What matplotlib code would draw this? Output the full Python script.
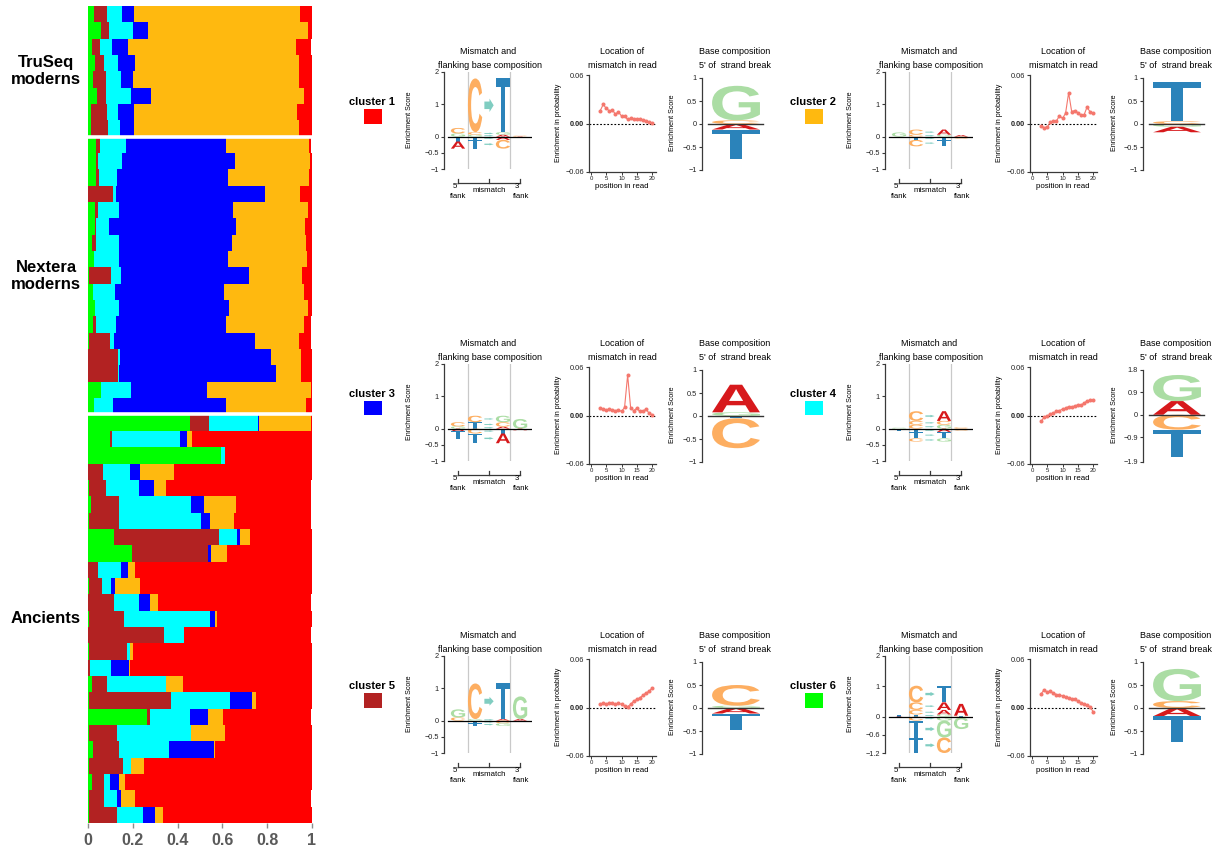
import numpy as np
import matplotlib
matplotlib.use("Agg")
import matplotlib.pyplot as plt
from matplotlib.textpath import TextPath
from matplotlib.font_manager import FontProperties
from matplotlib.patches import PathPatch, Rectangle, Polygon
from matplotlib.transforms import Affine2D
from matplotlib.lines import Line2D

W, H, DPI = 1222, 849, 100
plt.rcParams['font.family'] = ['Liberation Sans', 'DejaVu Sans']

# ---------------------------------------------------------------- data
# cluster membership per sample, stacked left->right as
# [cluster 6, cluster 5, cluster 4, cluster 3, cluster 2, cluster 1]
truseq_props = [
    [0.027, 0.058, 0.067, 0.054, 0.741, 0.054],
    [0.058, 0.036, 0.107, 0.067, 0.714, 0.018],
    [0.017, 0.036, 0.054, 0.071, 0.750, 0.067],
    [0.031, 0.040, 0.063, 0.076, 0.732, 0.058],
    [0.022, 0.058, 0.067, 0.054, 0.741, 0.058],
    [0.040, 0.040, 0.112, 0.089, 0.683, 0.036],
    [0.013, 0.071, 0.049, 0.071, 0.728, 0.067],
    [0.013, 0.076, 0.054, 0.063, 0.737, 0.058],
]
nextera_props = [
    [0.036, 0.018, 0.116, 0.446, 0.371, 0.009],
    [0.036, 0.009, 0.107, 0.504, 0.335, 0.009],
    [0.036, 0.013, 0.080, 0.496, 0.362, 0.013],
    [0.000, 0.112, 0.013, 0.665, 0.156, 0.054],
    [0.031, 0.013, 0.094, 0.509, 0.335, 0.018],
    [0.031, 0.004, 0.058, 0.567, 0.308, 0.031],
    [0.017, 0.018, 0.103, 0.504, 0.330, 0.027],
    [0.027, 0.000, 0.112, 0.487, 0.353, 0.022],
    [0.004, 0.098, 0.045, 0.571, 0.237, 0.045],
    [0.022, 0.000, 0.098, 0.487, 0.357, 0.036],
    [0.031, 0.000, 0.107, 0.491, 0.353, 0.018],
    [0.022, 0.013, 0.089, 0.491, 0.348, 0.031],
    [0.004, 0.094, 0.018, 0.629, 0.196, 0.054],
    [0.000, 0.134, 0.009, 0.674, 0.134, 0.049],
    [0.000, 0.134, 0.004, 0.701, 0.112, 0.049],
    [0.058, 0.000, 0.134, 0.339, 0.464, 0.004],
    [0.027, 0.000, 0.085, 0.504, 0.357, 0.027],
]
ancient_props = [
    [0.455, 0.085, 0.219, 0.004, 0.232, 0.004],
    [0.098, 0.009, 0.304, 0.031, 0.022, 0.536],
    [0.594, 0.000, 0.018, 0.000, 0.000, 0.388],
    [0.000, 0.067, 0.121, 0.045, 0.152, 0.616],
    [0.004, 0.076, 0.147, 0.067, 0.054, 0.647],
    [0.013, 0.125, 0.321, 0.058, 0.143, 0.335],
    [0.004, 0.134, 0.366, 0.040, 0.107, 0.344],
    [0.116, 0.469, 0.080, 0.013, 0.045, 0.277],
    [0.196, 0.339, 0.000, 0.013, 0.071, 0.379],
    [0.000, 0.045, 0.103, 0.031, 0.031, 0.790],
    [0.004, 0.058, 0.040, 0.018, 0.112, 0.768],
    [0.000, 0.116, 0.112, 0.049, 0.036, 0.683],
    [0.004, 0.156, 0.384, 0.022, 0.009, 0.424],
    [0.000, 0.339, 0.089, 0.000, 0.000, 0.567],
    [0.004, 0.170, 0.013, 0.000, 0.013, 0.799],
    [0.000, 0.009, 0.094, 0.080, 0.004, 0.812],
    [0.018, 0.067, 0.263, 0.000, 0.076, 0.576],
    [0.004, 0.366, 0.263, 0.098, 0.018, 0.250],
    [0.263, 0.013, 0.179, 0.080, 0.067, 0.393],
    [0.004, 0.125, 0.330, 0.000, 0.152, 0.388],
    [0.022, 0.116, 0.223, 0.201, 0.004, 0.433],
    [0.004, 0.152, 0.036, 0.000, 0.058, 0.750],
    [0.018, 0.054, 0.027, 0.040, 0.027, 0.835],
    [0.004, 0.067, 0.058, 0.018, 0.063, 0.786],
    [0.004, 0.125, 0.116, 0.054, 0.036, 0.665],
]
group_names = ["TruSeq\nmoderns", "Nextera\nmoderns", "Ancients"]
share_ticks = [0, 0.2, 0.4, 0.6, 0.8, 1]
share_tick_labels = ["0", "0.2", "0.4", "0.6", "0.8", "1"]

cluster_names = ["cluster 1", "cluster 2", "cluster 3", "cluster 4", "cluster 5", "cluster 6"]
cluster_colors = ["#FF0000", "#FFB90F", "#0000FF", "#00FFFF", "#B22222", "#00FF00"]

# mismatch logos: columns = 5' flank, reference base, read base, 3' flank
# each column: (letters above zero, letters below zero), stacked outward
mm_cluster1 = [
    ([('G', 0.10), ('C', 0.17)], [('T', 0.15), ('A', 0.22)]),
    ([('G', 0.06), ('C', 0.08), ('C', 1.66)], [('T', 0.10), ('T', 0.27)]),
    ([('A', 0.06), ('G', 0.08), ('T', 1.66)], [('A', 0.10), ('C', 0.27)]),
    ([('C', 0.03)], [('A', 0.04)]),
]
mm_cluster2 = [
    ([('G', 0.13)], [('T', 0.03)]),
    ([('C', 0.06), ('C', 0.16)], [('T', 0.10), ('C', 0.20)]),
    ([('G', 0.06), ('A', 0.16)], [('T', 0.10), ('T', 0.20)]),
    ([('A', 0.05)], [('C', 0.06)]),
]
mm_cluster3 = [
    ([('G', 0.07), ('C', 0.13)], [('A', 0.08), ('T', 0.23)]),
    ([('T', 0.06), ('T', 0.14), ('C', 0.20)], [('C', 0.15), ('T', 0.30)]),
    ([('A', 0.06), ('C', 0.14), ('G', 0.20)], [('T', 0.15), ('A', 0.30)]),
    ([('G', 0.30)], [('A', 0.05)]),
]
mm_cluster4 = [
    ([('G', 0.03)], [('T', 0.08)]),
    ([('C', 0.12), ('C', 0.12), ('C', 0.30)], [('T', 0.10), ('T', 0.20), ('C', 0.10)]),
    ([('G', 0.12), ('C', 0.12), ('A', 0.30)], [('A', 0.10), ('T', 0.20), ('G', 0.10)]),
    ([('C', 0.04)], [('C', 0.06)]),
]
mm_cluster5 = [
    ([('C', 0.10), ('G', 0.25)], [('T', 0.04)]),
    ([('G', 0.05), ('C', 1.10)], [('T', 0.08), ('T', 0.08)]),
    ([('A', 0.05), ('T', 1.10)], [('C', 0.08), ('G', 0.08)]),
    ([('A', 0.05), ('G', 0.70)], [('A', 0.03)]),
]
mm_cluster6 = [
    ([('T', 0.06)], [('A', 0.04)]),
    ([('T', 0.07), ('C', 0.15), ('C', 0.25), ('C', 0.55)], [('C', 0.13), ('T', 0.56), ('T', 0.51)]),
    ([('G', 0.07), ('A', 0.15), ('A', 0.25), ('T', 0.55)], [('G', 0.13), ('G', 0.56), ('C', 0.51)]),
    ([('T', 0.03), ('A', 0.39)], [('C', 0.03), ('G', 0.38)]),
]
mm_ylims = [(-1, 2)] * 5 + [(-1.2, 2)]
mm_yticks = [[2, 1, 0, -0.5, -1]] * 5 + [[2, 1, 0, -0.6, -1.2]]

# enrichment in probability of the mismatch at each read position
read_positions = list(range(3, 21))
loc_cluster1 = [0.0157, 0.0236, 0.0186, 0.0157, 0.0166, 0.0116, 0.0145, 0.0091, 0.0091,
                0.0050, 0.0062, 0.0054, 0.0054, 0.0050, 0.0041, 0.0037, 0.0017, 0.0008]
loc_cluster2 = [-0.0025, -0.0051, -0.0042, 0.0013, 0.0030, 0.0030, 0.0097, 0.0063, 0.0127,
                0.0380, 0.0148, 0.0160, 0.0135, 0.0106, 0.0101, 0.0199, 0.0148, 0.0127]
loc_cluster3 = [0.0090, 0.0080, 0.0070, 0.0080, 0.0070, 0.0060, 0.0070, 0.0050, 0.0100,
                0.0500, 0.0090, 0.0060, 0.0090, 0.0050, 0.0050, 0.0080, 0.0030, 0.0010]
loc_cluster4 = [-0.0070, -0.0020, -0.0010, 0.0020, 0.0030, 0.0050, 0.0060, 0.0080, 0.0090,
                0.0110, 0.0100, 0.0120, 0.0130, 0.0130, 0.0150, 0.0180, 0.0190, 0.0190]
loc_cluster5 = [0.0040, 0.0050, 0.0040, 0.0060, 0.0050, 0.0040, 0.0050, 0.0040, 0.0020,
                0.0010, 0.0040, 0.0080, 0.0100, 0.0120, 0.0150, 0.0180, 0.0200, 0.0240]
loc_cluster6 = [0.0170, 0.0220, 0.0190, 0.0200, 0.0180, 0.0160, 0.0160, 0.0140, 0.0130,
                0.0120, 0.0110, 0.0100, 0.0080, 0.0060, 0.0040, 0.0030, 0.0010, -0.0050]
loc_ticks = [0, 5, 10, 15, 20]

# base 5' of the strand break
base_cluster1 = ([('C', 0.08), ('G', 0.75)], [('A', 0.12), ('T', 0.63)])
base_cluster2 = ([('C', 0.06), ('T', 0.85)], [('G', 0.06), ('A', 0.12)])
base_cluster3 = ([('G', 0.08), ('A', 0.60)], [('T', 0.05), ('C', 0.65)])
base_cluster4 = ([('A', 0.55), ('G', 1.05)], [('C', 0.60), ('T', 1.10)])
base_cluster5 = ([('G', 0.05), ('C', 0.45)], [('A', 0.12), ('T', 0.35)])
base_cluster6 = ([('C', 0.15), ('G', 0.70)], [('A', 0.18), ('T', 0.55)])
base_ylims = [(-1, 1), (-1, 1), (-1, 1), (-1.9, 1.8), (-1, 1), (-1, 1)]
base_yticks = [[1, 0.5, 0, -0.5, -1]] * 3 + [[1.8, 0.9, 0, -0.9, -1.9]] + [[1, 0.5, 0, -0.5, -1]] * 2

mm_logos = [mm_cluster1, mm_cluster2, mm_cluster3, mm_cluster4, mm_cluster5, mm_cluster6]
loc_series = [loc_cluster1, loc_cluster2, loc_cluster3, loc_cluster4, loc_cluster5, loc_cluster6]
base_logos = [base_cluster1, base_cluster2, base_cluster3, base_cluster4, base_cluster5, base_cluster6]

# ---------------------------------------------------------------- styling
STACK_COLORS = ["#00FF00", "#B22222", "#00FFFF", "#0000FF", "#FFB90F", "#FF0000"]
LETTER_COLORS = {'A': '#D7191C', 'C': '#FDAE61', 'G': '#ABDDA4', 'T': '#2B83BA'}
ARROW_COLOR = '#80CDC1'
LINE_COLOR = '#F4776D'
AX_COLOR = '#3A3A3A'
LOGO_FONT = FontProperties(family='Liberation Sans', weight='bold')

fig = plt.figure(figsize=(W / DPI, H / DPI), dpi=DPI)
fig.patch.set_facecolor('white')


def px_axes(left, top, right, bottom):
    return fig.add_axes([left / W, 1 - bottom / H, (right - left) / W, (bottom - top) / H])


def ftext(x, y, s, **kw):
    kw.setdefault('ha', 'center')
    kw.setdefault('va', 'center')
    return fig.text(x / W, 1 - y / H, s, **kw)


def fline(xs, ys, **kw):
    fig.add_artist(Line2D([x / W for x in xs], [1 - y / H for y in ys],
                          transform=fig.transFigure, **kw))


_glyphs = {}


def draw_letter(ax, ch, xc, y0, y1, width):
    if ch not in _glyphs:
        _glyphs[ch] = TextPath((0, 0), ch, size=1, prop=LOGO_FONT)
    tp = _glyphs[ch]
    bb = tp.get_extents()
    tr = (Affine2D().translate(-bb.x0, -bb.y0)
          .scale(width / bb.width, (y1 - y0) / bb.height)
          .translate(xc - width / 2, y0))
    ax.add_patch(PathPatch(tr.transform_path(tp), fc=LETTER_COLORS[ch], ec='none', lw=0, zorder=2))


def draw_arrow(ax, xc, y0, y1, width):
    h = abs(y1 - y0)
    a = max(0.25 * h, 0.05)
    yc = (y0 + y1) / 2
    x0, x1 = xc - width / 2, xc + width / 2
    xs = x0 + 0.55 * width
    s = 0.28 * a
    verts = [(x0, yc - s), (xs, yc - s), (xs, yc - a / 2), (x1, yc),
             (xs, yc + a / 2), (xs, yc + s), (x0, yc + s)]
    ax.add_patch(Polygon(verts, closed=True, fc=ARROW_COLOR, ec='none', zorder=2))


def draw_stack(ax, xc, up, down, width):
    y = 0.0
    for ch, h in up:
        draw_letter(ax, ch, xc, y, y + h, width)
        y += h
    y = 0.0
    for ch, h in down:
        draw_letter(ax, ch, xc, y - h, y, width)
        y -= h


def style_left_axis(ax, ticks, labels):
    for side in ['top', 'right', 'bottom']:
        ax.spines[side].set_visible(False)
    ax.spines['left'].set_color(AX_COLOR)
    ax.spines['left'].set_linewidth(0.9)
    ax.set_yticks(ticks)
    ax.set_yticklabels(labels)
    ax.tick_params(axis='y', length=2.4, width=0.8, pad=1.2, labelsize=5.3,
                   color=AX_COLOR, labelcolor='#222222')
    ax.set_xticks([])


def fmt_tick(v):
    s = f"{v:g}"
    return s.replace('-', '\u2212')


# ---------------------------------------------------------------- stacked membership bars
rows = truseq_props + nextera_props + ancient_props
props = np.array(rows)
n = len(rows)
axb = px_axes(88, 6, 312, 823)
ypos = np.arange(n)
lefts = np.zeros(n)
for j, col in enumerate(STACK_COLORS):
    axb.barh(ypos, props[:, j], left=lefts, height=1.0, color=col, edgecolor='none', linewidth=0)
    lefts += props[:, j]
axb.set_xlim(0, 1)
axb.set_ylim(n - 0.5, -0.5)
bounds = [len(truseq_props), len(truseq_props) + len(nextera_props)]
for b in bounds:
    axb.axhline(b - 0.5, color='white', lw=2.6)
for s in axb.spines.values():
    s.set_visible(False)
axb.set_yticks([])
axb.set_xticks(share_ticks)
axb.set_xticklabels(share_tick_labels)
axb.tick_params(axis='x', length=3.5, width=1.0, color='#8C8C8C', pad=4,
                labelsize=11.5, labelcolor='#5A5A5A')
for lab in axb.get_xticklabels():
    lab.set_fontweight('bold')

group_sizes = [len(truseq_props), len(nextera_props), len(ancient_props)]
start = 0
for name, size in zip(group_names, group_sizes):
    mid = start + size / 2 - 0.5
    ymid = 6 + (mid + 0.5) / n * (823 - 6)
    ftext(46, ymid, name, fontsize=12, fontweight='bold', linespacing=1.15)
    start += size

# ---------------------------------------------------------------- per-cluster panels
col_x = [1.0, 2.1, 3.0, 3.9, 5.0]   # logo column centres (5' flank, ref, arrow, read, 3' flank)
for k in range(6):
    dx = 441 * (k % 2)
    dy = 292 * (k // 2)

    # cluster key
    ftext(372 + dx, 102 + dy, cluster_names[k], fontsize=8, fontweight='bold')
    fig.patches.append(Rectangle(((364 + dx) / W, 1 - (123.5 + dy) / H), 17.5 / W, 14.5 / H,
                                 transform=fig.transFigure, fc=cluster_colors[k], ec='none'))

    # mismatch and flanking base logo
    ax = px_axes(444 + dx, 72 + dy, 532 + dx, 169 + dy)
    ax.set_xlim(0.097, 5.77)
    ax.set_ylim(*mm_ylims[k])
    for gx in (1.65, 4.35):
        ax.axvline(gx, color='#C9C9C9', lw=0.9, zorder=1)
    logo = mm_logos[k]
    draw_stack(ax, col_x[0], logo[0][0], logo[0][1], 0.92)
    draw_stack(ax, col_x[1], logo[1][0], logo[1][1], 0.92)
    draw_stack(ax, col_x[3], logo[2][0], logo[2][1], 0.92)
    draw_stack(ax, col_x[4], logo[3][0], logo[3][1], 0.92)
    y = 0.0
    for _, h in logo[1][0]:
        draw_arrow(ax, col_x[2], y, y + h, 0.6)
        y += h
    y = 0.0
    for _, h in logo[1][1]:
        draw_arrow(ax, col_x[2], y - h, y, 0.6)
        y -= h
    ax.plot([0.36, 5.77], [0, 0], color='black', lw=0.9, zorder=3)
    style_left_axis(ax, mm_yticks[k], [fmt_tick(v) for v in mm_yticks[k]])
    ax.patch.set_alpha(0)
    ftext(488 + dx, 52 + dy, "Mismatch and", fontsize=6.5)
    ftext(490 + dx, 65 + dy, "flanking base composition", fontsize=6.5)
    ftext(410 + dx, 120 + dy, "Enrichment Score", fontsize=5.1, rotation=90)
    # position bracket under the logo
    fline([458 + dx, 520 + dx], [183 + dy, 183 + dy], color=AX_COLOR, lw=0.9)
    for bx in (458, 489, 520):
        fline([bx + dx, bx + dx], [183 + dy, 179 + dy], color=AX_COLOR, lw=0.9)
    ftext(456 + dx, 187 + dy, "5'", fontsize=5.6)
    ftext(458 + dx, 196 + dy, "flank", fontsize=5.6)
    ftext(489 + dx, 190 + dy, "mismatch", fontsize=5.6)
    ftext(518 + dx, 187 + dy, "3'", fontsize=5.6)
    ftext(521 + dx, 196 + dy, "flank", fontsize=5.6)

    # location of mismatch in read
    axl = px_axes(589 + dx, 75 + dy, 656 + dx, 172 + dy)
    axl.set_xlim(-0.66, 21.3)
    axl.set_ylim(-0.06, 0.06)
    axl.axhline(0, color='black', lw=0.8, ls=(0, (1.6, 1.6)), zorder=1)
    axl.plot(read_positions, loc_series[k], color=LINE_COLOR, lw=0.8, marker='o',
             ms=2.9, mec='none', zorder=2)
    for side in ['top', 'right']:
        axl.spines[side].set_visible(False)
    for side in ['left', 'bottom']:
        axl.spines[side].set_color(AX_COLOR)
        axl.spines[side].set_linewidth(0.9)
    axl.set_yticks([0.06, 0.0, -0.06])
    axl.set_yticklabels(["0.06", "0.00", "\u22120.06"])
    axl.get_yticklabels()[1].set_fontweight('bold')
    axl.set_xticks(loc_ticks)
    axl.tick_params(axis='y', length=2.4, width=0.8, pad=1.2, labelsize=5.3,
                    color=AX_COLOR, labelcolor='#222222')
    axl.tick_params(axis='x', length=1.8, width=0.7, pad=0.8, labelsize=4.3,
                    color=AX_COLOR, labelcolor='#222222')
    axl.patch.set_alpha(0)
    ftext(622 + dx, 52 + dy, "Location of", fontsize=6.5)
    ftext(622 + dx, 65 + dy, "mismatch in read", fontsize=6.5)
    ftext(558 + dx, 123 + dy, "Enrichment in probability", fontsize=5.1, rotation=90)
    ftext(622 + dx, 186 + dy, "position in read", fontsize=5.7)

    # base composition 5' of the strand break
    axc = px_axes(702 + dx, 78 + dy, 765 + dx, 170 + dy)
    axc.set_xlim(0, 1)
    axc.set_ylim(*base_ylims[k])
    up, down = base_logos[k]
    draw_stack(axc, 0.54, up, down, 0.76)
    axc.plot([0.095, 0.97], [0, 0], color='#333333', lw=1.0, zorder=3)
    style_left_axis(axc, base_yticks[k], [fmt_tick(v) for v in base_yticks[k]])
    axc.patch.set_alpha(0)
    ftext(735 + dx, 52 + dy, "Base composition", fontsize=6.5)
    ftext(735 + dx, 65 + dy, "5' of  strand break", fontsize=6.5)
    ftext(673 + dx, 123 + dy, "Enrichment Score", fontsize=5.1, rotation=90)

fig.savefig("out.png", dpi=DPI, facecolor='white')
